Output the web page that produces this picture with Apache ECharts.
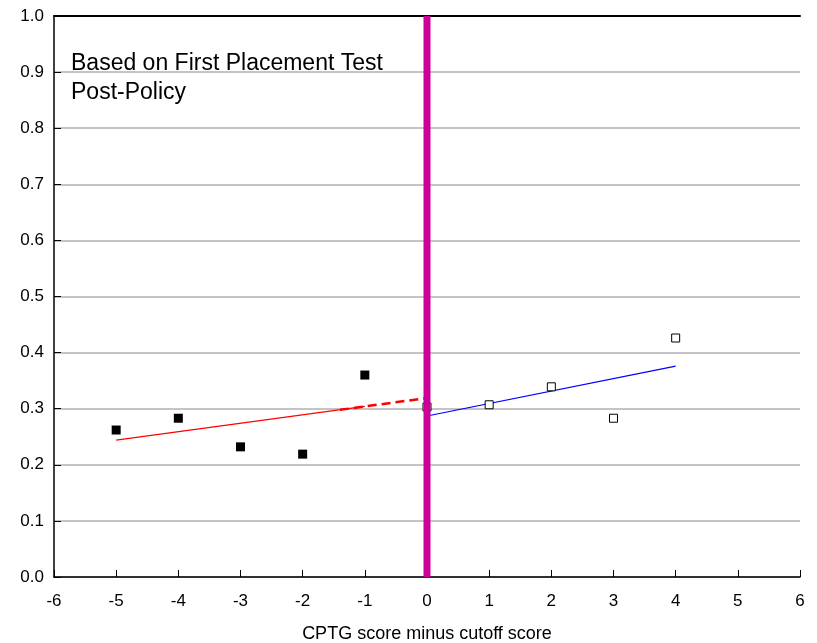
<!DOCTYPE html>
<html>
<head>
<meta charset="utf-8">
<script src="https://cdn.jsdelivr.net/npm/echarts@6/dist/echarts.min.js"></script>
<style>
  html, body { margin: 0; padding: 0; background: #fff; }
  #chart { width: 817px; height: 643px; }
</style>
</head>
<body>
<div id="chart"></div>
<script>
  // 左侧（低于分数线）实心点
  var leftX = [-5, -4, -3, -2, -1];
  var leftY = [0.262, 0.283, 0.232, 0.219, 0.360];
  // 右侧空心点
  var rightX = [0, 1, 2, 3, 4];
  var rightY = [0.303, 0.307, 0.339, 0.283, 0.426];
  // 拟合线
  var redSolidX = [-5, -1];
  var redSolidY = [0.244, 0.304];
  var redDashX = [-1.4, 0];
  var redDashY = [0.298, 0.319];
  var blueX = [0, 4];
  var blueY = [0.287, 0.376];
  // 分数线
  var cutoffX = [0, 0];
  var cutoffY = [0, 1];

  function pairs(xs, ys) {
    return xs.map(function (x, i) { return [x, ys[i]]; });
  }

  var myChart = echarts.init(document.getElementById('chart'));
  var font = 'Liberation Sans, Arial, sans-serif';
  var option = {
    backgroundColor: '#fff',
    animation: false,
    grid: { left: 54, right: 17, top: 16, bottom: 66, containLabel: false, outerBoundsMode: 'none' },
    graphic: [{
      type: 'text',
      left: 71,
      top: 49,
      style: {
        text: 'Based on First Placement Test\nPost-Policy',
        fontFamily: font,
        fontSize: 23,
        lineHeight: 29,
        fill: '#000'
      }
    }],
    xAxis: [{
      type: 'value',
      min: -6,
      max: 6,
      interval: 1,
      name: 'CPTG score minus cutoff score',
      nameLocation: 'middle',
      nameGap: 48,
      nameTextStyle: { color: '#000', fontSize: 18, fontFamily: font },
      axisLine: { onZero: false, lineStyle: { color: '#000', width: 1.5 } },
      axisTick: { inside: true, length: 7, lineStyle: { color: '#000' } },
      axisLabel: { color: '#000', fontSize: 17, fontFamily: font, margin: 16 },
      splitLine: { show: false }
    }, {
      type: 'value',
      position: 'top',
      min: -6,
      max: 6,
      axisLine: { show: true, onZero: false, lineStyle: { color: '#000', width: 2 } },
      axisTick: { show: false },
      axisLabel: { show: false },
      splitLine: { show: false }
    }],
    yAxis: {
      type: 'value',
      min: 0,
      max: 1,
      interval: 0.1,
      axisLine: { show: true, onZero: false, lineStyle: { color: '#000', width: 1.5 } },
      axisTick: { inside: true, length: 7, lineStyle: { color: '#000' } },
      axisLabel: {
        color: '#000', fontSize: 17, fontFamily: font, margin: 10,
        formatter: function (v) { return v.toFixed(1); }
      },
      splitLine: { show: true, lineStyle: { color: '#c4c4c4', width: 2 } }
    },
    series: [
      {
        type: 'line',
        data: pairs(redSolidX, redSolidY),
        symbol: 'none',
        lineStyle: { color: '#ff0000', width: 1.2 },
        z: 3
      },
      {
        type: 'line',
        data: pairs(redDashX, redDashY),
        symbol: 'none',
        lineStyle: { color: '#ff0000', width: 2.5, type: [9, 5] },
        z: 3
      },
      {
        type: 'line',
        data: pairs(blueX, blueY),
        symbol: 'none',
        lineStyle: { color: '#0000ff', width: 1.2 },
        z: 3
      },
      {
        type: 'scatter',
        data: pairs(leftX, leftY),
        symbol: 'rect',
        symbolSize: 9,
        itemStyle: { color: '#000', opacity: 1 },
        z: 4
      },
      {
        type: 'scatter',
        data: pairs(rightX, rightY),
        symbol: 'rect',
        symbolSize: 8,
        itemStyle: { color: '#fff', borderColor: '#000', borderWidth: 1, opacity: 1 },
        z: 4
      },
      {
        type: 'line',
        data: pairs(cutoffX, cutoffY),
        symbol: 'none',
        lineStyle: { color: '#cc0099', width: 7 },
        z: 5
      }
    ]
  };
  myChart.setOption(option);
</script>
</body>
</html>
